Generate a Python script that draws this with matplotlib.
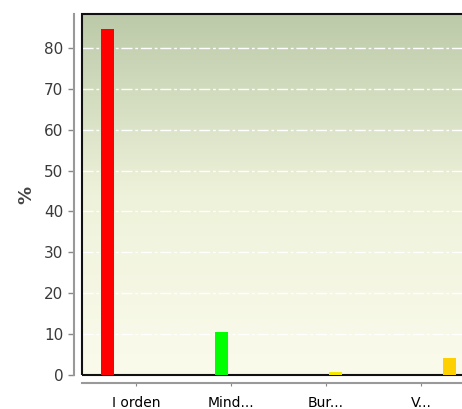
import numpy as np
import matplotlib
matplotlib.use("Agg")
import matplotlib.pyplot as plt
from matplotlib.colors import LinearSegmentedColormap
from matplotlib.patches import Rectangle

# Data
categories = ["I orden", "Mind...", "Bur...", "V..."]
serie_i_orden = [84.6, 0, 0, 0]
serie_mind = [0, 10.5, 0, 0]
serie_bur = [0, 0, 0.7, 0]
serie_v = [0, 0, 0, 4.2]
series = [serie_i_orden, serie_mind, serie_bur, serie_v]
series_colors = ["#ff0000", "#00ff00", "#f5e800", "#ffd000"]
yticks = [0, 10, 20, 30, 40, 50, 60, 70, 80]

fig = plt.figure(figsize=(4.62, 4.09), dpi=100)
ax = fig.add_axes([82 / 462, 34 / 409, 392 / 462, 361 / 409])

# gradient background
grad = LinearSegmentedColormap.from_list("bg", ["#fbfbec", "#eef2da", "#bccaa9"])
ax.imshow(np.linspace(0, 1, 256).reshape(-1, 1), cmap=grad, origin="lower",
          aspect="auto", extent=[0, 1, 0, 1], transform=ax.transAxes, zorder=0)

x = np.arange(len(categories))
w = 0.2
for i, (vals, col) in enumerate(zip(series, series_colors)):
    ax.bar(x + (i - 1.5) * w, vals, width=0.14, color=col, zorder=6)

ax.set_xlim(-0.57, 3.56)
ax.set_ylim(0, 88.3)
ax.set_yticks(yticks)
ax.set_xticks(x)
ax.set_xticklabels(categories, fontsize=7, color="#333344")
ax.tick_params(axis="y", labelsize=11, labelcolor="#3a3a3a", length=4,
               color="#888888", width=1)
ax.tick_params(axis="x", length=2, color="#888888", pad=7)
ax.set_ylabel("%", fontsize=13, color="#444444", fontweight="bold", labelpad=6)

ax.grid(axis="y", color="white", linestyle=(0, (8, 2, 2, 2)), linewidth=1, zorder=1)
ax.set_axisbelow(True)

for s in ["left", "bottom"]:
    ax.spines[s].set_position(("outward", 6))
    ax.spines[s].set_color("#999999")
    ax.spines[s].set_linewidth(1.5)
ax.spines["top"].set_visible(False)
ax.spines["right"].set_visible(False)
ax.add_patch(Rectangle((0, 0), 1, 1, transform=ax.transAxes, fill=False,
                       edgecolor="#111111", linewidth=1.5, zorder=5, clip_on=False))

fig.savefig("out.png", dpi=100)
